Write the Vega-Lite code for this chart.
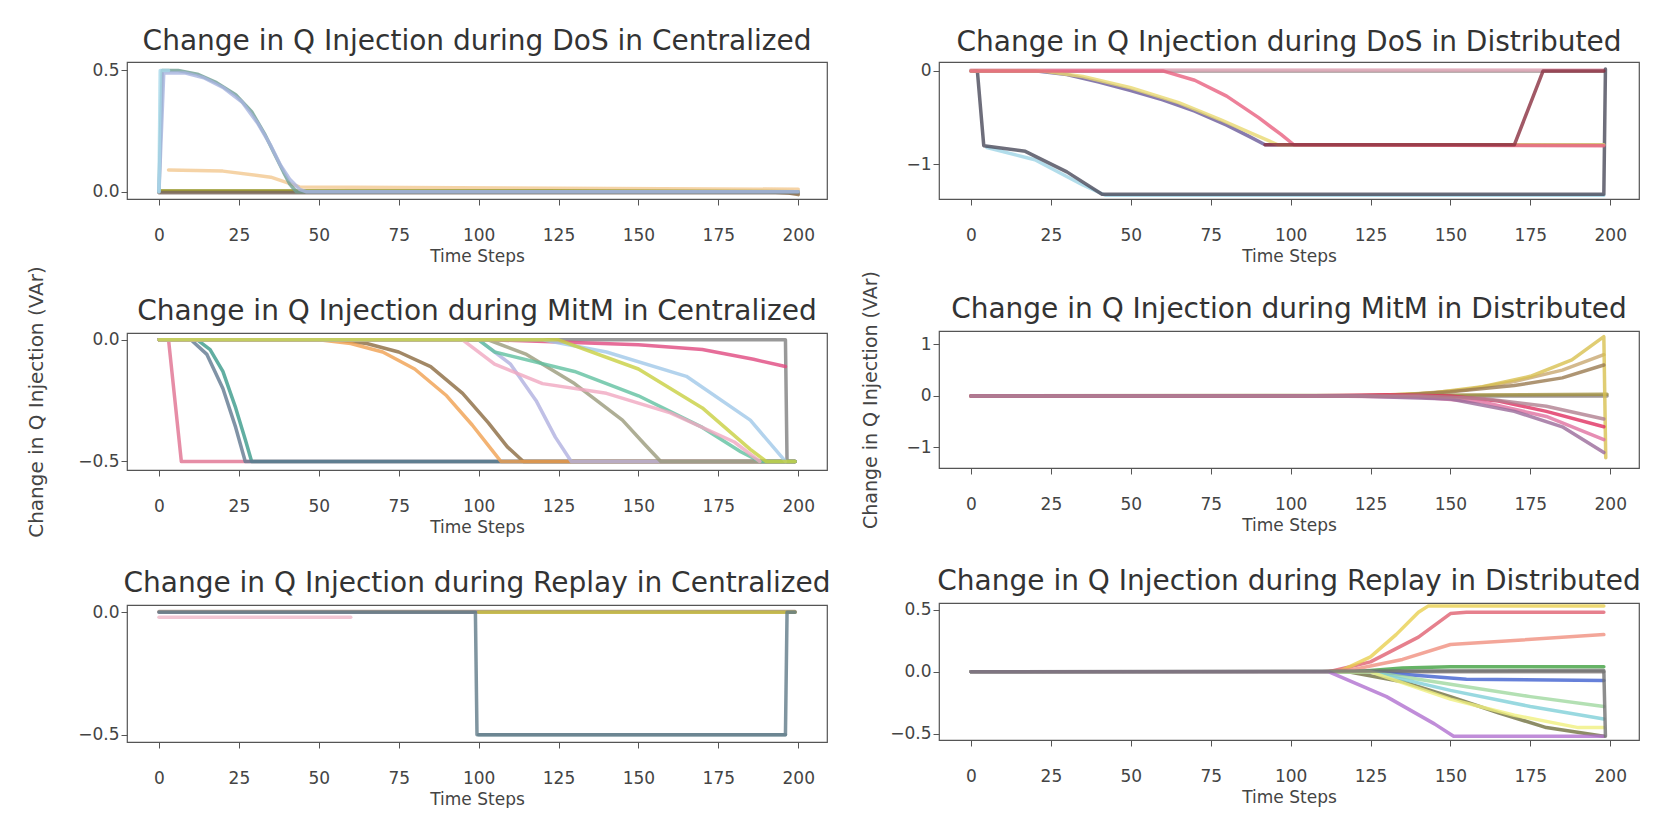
{
"$schema": "https://vega.github.io/schema/vega-lite/v6.json",
"padding": {"left": 25, "top": 27, "right": 0, "bottom": 0},
"background": "white",
"config": {
  "view": {"stroke": "#555", "strokeWidth": 1.2},
  "font": "DejaVu Sans",
  "title": {"fontSize": 28, "fontWeight": "normal", "color": "#333", "offset": 5},
  "axis": {"grid": false, "domain": false, "tickColor": "#555", "labelFontSize": 17, "labelColor": "#444", "titleFontSize": 17, "titleFontWeight": "normal", "titleColor": "#444", "tickSize": 6},
  "line": {"strokeWidth": 3.5, "opacity": 0.8, "strokeCap": "round", "strokeJoin": "round"}
},
"datasets": {
  "dos_c": [
    {"s":"c2","t":3,"v":0.09},{"s":"c2","t":20,"v":0.085},{"s":"c2","t":35,"v":0.06},{"s":"c2","t":44,"v":0.02},{"s":"c2","t":200,"v":0.01},
    {"s":"b1","t":0,"v":0},{"s":"b1","t":190,"v":0},{"s":"b1","t":197,"v":-0.005},{"s":"b1","t":200,"v":-0.012},
    {"s":"b2","t":0,"v":0.004},{"s":"b2","t":120,"v":0.004},{"s":"b2","t":200,"v":0},
    {"s":"b3","t":0,"v":-0.004},{"s":"b3","t":200,"v":-0.004},
    {"s":"a1","t":0,"v":0},{"s":"a1","t":1,"v":0.5},{"s":"a1","t":6,"v":0.5},{"s":"a1","t":12,"v":0.485},{"s":"a1","t":18,"v":0.45},{"s":"a1","t":24,"v":0.4},{"s":"a1","t":29,"v":0.33},{"s":"a1","t":33,"v":0.24},{"s":"a1","t":36,"v":0.16},{"s":"a1","t":39,"v":0.08},{"s":"a1","t":41,"v":0.03},{"s":"a1","t":43,"v":0},{"s":"a1","t":200,"v":0},
    {"s":"a2","t":0,"v":0},{"s":"a2","t":1.5,"v":0.49},{"s":"a2","t":8,"v":0.49},{"s":"a2","t":14,"v":0.47},{"s":"a2","t":20,"v":0.43},{"s":"a2","t":26,"v":0.37},{"s":"a2","t":31,"v":0.28},{"s":"a2","t":35,"v":0.19},{"s":"a2","t":38,"v":0.11},{"s":"a2","t":41,"v":0.05},{"s":"a2","t":44,"v":0.01},{"s":"a2","t":46,"v":0},{"s":"a2","t":200,"v":0},
    {"s":"c1","t":0,"v":0},{"s":"c1","t":0.4,"v":0.5},{"s":"c1","t":3,"v":0.5}
  ],
  "dos_d": [
    {"s":"d3","t":0,"v":0},{"s":"d3","t":198,"v":0},
    {"s":"d4","t":0,"v":0.01},{"s":"d4","t":198,"v":0.01},
    {"s":"d2","t":5,"v":-0.82},{"s":"d2","t":20,"v":-0.95},{"s":"d2","t":35,"v":-1.22},{"s":"d2","t":42,"v":-1.33},{"s":"d2","t":198,"v":-1.33},
    {"s":"d1","t":1,"v":0},{"s":"d1","t":2,"v":0},{"s":"d1","t":4,"v":-0.8},{"s":"d1","t":17,"v":-0.86},{"s":"d1","t":30,"v":-1.08},{"s":"d1","t":41,"v":-1.32},{"s":"d1","t":198,"v":-1.32},{"s":"d1","t":198.5,"v":0.02},
    {"s":"d5","t":0,"v":0},{"s":"d5","t":20,"v":0},{"s":"d5","t":30,"v":-0.04},{"s":"d5","t":40,"v":-0.12},{"s":"d5","t":50,"v":-0.21},{"s":"d5","t":60,"v":-0.31},{"s":"d5","t":70,"v":-0.43},{"s":"d5","t":80,"v":-0.58},{"s":"d5","t":87,"v":-0.7},{"s":"d5","t":92,"v":-0.79},{"s":"d5","t":198,"v":-0.79},
    {"s":"d6","t":0,"v":0},{"s":"d6","t":22,"v":0},{"s":"d6","t":35,"v":-0.06},{"s":"d6","t":50,"v":-0.18},{"s":"d6","t":65,"v":-0.34},{"s":"d6","t":78,"v":-0.52},{"s":"d6","t":88,"v":-0.67},{"s":"d6","t":96,"v":-0.79},{"s":"d6","t":198,"v":-0.79},
    {"s":"d7","t":0,"v":0},{"s":"d7","t":60,"v":0},{"s":"d7","t":70,"v":-0.1},{"s":"d7","t":80,"v":-0.27},{"s":"d7","t":90,"v":-0.5},{"s":"d7","t":97,"v":-0.68},{"s":"d7","t":101,"v":-0.79},{"s":"d7","t":198,"v":-0.8},
    {"s":"d9","t":92,"v":-0.79},{"s":"d9","t":170,"v":-0.79},{"s":"d9","t":179,"v":0},{"s":"d9","t":198,"v":0}
  ],
  "mitm_c": [
    {"s":"m10","t":0,"v":0},{"s":"m10","t":196,"v":0},{"s":"m10","t":196.5,"v":-0.5},{"s":"m10","t":199,"v":-0.5},
    {"s":"m1","t":0,"v":0},{"s":"m1","t":3,"v":0},{"s":"m1","t":5,"v":-0.25},{"s":"m1","t":7,"v":-0.5},{"s":"m1","t":199,"v":-0.5},
    {"s":"m2","t":0,"v":0},{"s":"m2","t":12,"v":0},{"s":"m2","t":16,"v":-0.04},{"s":"m2","t":20,"v":-0.13},{"s":"m2","t":24,"v":-0.28},{"s":"m2","t":27,"v":-0.41},{"s":"m2","t":29,"v":-0.5},{"s":"m2","t":199,"v":-0.5},
    {"s":"m3","t":0,"v":0},{"s":"m3","t":10,"v":0},{"s":"m3","t":15,"v":-0.06},{"s":"m3","t":20,"v":-0.2},{"s":"m3","t":24,"v":-0.36},{"s":"m3","t":27,"v":-0.5},{"s":"m3","t":199,"v":-0.5},
    {"s":"m4","t":0,"v":0},{"s":"m4","t":55,"v":0},{"s":"m4","t":65,"v":-0.015},{"s":"m4","t":75,"v":-0.05},{"s":"m4","t":85,"v":-0.11},{"s":"m4","t":95,"v":-0.22},{"s":"m4","t":103,"v":-0.34},{"s":"m4","t":109,"v":-0.44},{"s":"m4","t":114,"v":-0.5},{"s":"m4","t":199,"v":-0.5},
    {"s":"m5","t":0,"v":0},{"s":"m5","t":50,"v":0},{"s":"m5","t":60,"v":-0.015},{"s":"m5","t":70,"v":-0.05},{"s":"m5","t":80,"v":-0.12},{"s":"m5","t":90,"v":-0.23},{"s":"m5","t":98,"v":-0.35},{"s":"m5","t":104,"v":-0.45},{"s":"m5","t":107,"v":-0.5},{"s":"m5","t":199,"v":-0.5},
    {"s":"m6","t":0,"v":0},{"s":"m6","t":100,"v":0},{"s":"m6","t":110,"v":-0.1},{"s":"m6","t":118,"v":-0.25},{"s":"m6","t":124,"v":-0.4},{"s":"m6","t":129,"v":-0.5},{"s":"m6","t":199,"v":-0.5},
    {"s":"m7","t":0,"v":0},{"s":"m7","t":103,"v":0},{"s":"m7","t":115,"v":-0.06},{"s":"m7","t":130,"v":-0.18},{"s":"m7","t":145,"v":-0.33},{"s":"m7","t":152,"v":-0.43},{"s":"m7","t":157,"v":-0.5},{"s":"m7","t":199,"v":-0.5},
    {"s":"m8","t":0,"v":0},{"s":"m8","t":100,"v":0},{"s":"m8","t":105,"v":-0.05},{"s":"m8","t":130,"v":-0.13},{"s":"m8","t":150,"v":-0.23},{"s":"m8","t":170,"v":-0.36},{"s":"m8","t":182,"v":-0.46},{"s":"m8","t":188,"v":-0.5},{"s":"m8","t":199,"v":-0.5},
    {"s":"m9","t":0,"v":0},{"s":"m9","t":104,"v":0},{"s":"m9","t":150,"v":-0.02},{"s":"m9","t":170,"v":-0.04},{"s":"m9","t":186,"v":-0.08},{"s":"m9","t":196,"v":-0.11},
    {"s":"m11","t":0,"v":0},{"s":"m11","t":95,"v":0},{"s":"m11","t":105,"v":-0.1},{"s":"m11","t":120,"v":-0.18},{"s":"m11","t":140,"v":-0.22},{"s":"m11","t":160,"v":-0.3},{"s":"m11","t":180,"v":-0.42},{"s":"m11","t":188,"v":-0.5},
    {"s":"m12","t":0,"v":0},{"s":"m12","t":120,"v":0},{"s":"m12","t":140,"v":-0.05},{"s":"m12","t":165,"v":-0.15},{"s":"m12","t":185,"v":-0.33},{"s":"m12","t":196,"v":-0.5},
    {"s":"m13","t":0,"v":0},{"s":"m13","t":125,"v":0},{"s":"m13","t":150,"v":-0.12},{"s":"m13","t":170,"v":-0.28},{"s":"m13","t":185,"v":-0.45},{"s":"m13","t":190,"v":-0.5},{"s":"m13","t":199,"v":-0.5}
  ],
  "mitm_d": [
    {"s":"n1","t":0,"v":0},{"s":"n1","t":199,"v":0},
    {"s":"n8","t":0,"v":0},{"s":"n8","t":120,"v":0.01},{"s":"n8","t":199,"v":0.03},
    {"s":"n2","t":0,"v":0},{"s":"n2","t":120,"v":0},{"s":"n2","t":140,"v":0.04},{"s":"n2","t":155,"v":0.12},{"s":"n2","t":170,"v":0.28},{"s":"n2","t":185,"v":0.5},{"s":"n2","t":198,"v":0.8},
    {"s":"n3","t":0,"v":0},{"s":"n3","t":125,"v":0},{"s":"n3","t":145,"v":0.06},{"s":"n3","t":160,"v":0.18},{"s":"n3","t":175,"v":0.38},{"s":"n3","t":188,"v":0.7},{"s":"n3","t":198,"v":1.15},{"s":"n3","t":198.6,"v":-1.2},
    {"s":"n4","t":0,"v":0},{"s":"n4","t":130,"v":0},{"s":"n4","t":150,"v":0.08},{"s":"n4","t":170,"v":0.2},{"s":"n4","t":185,"v":0.35},{"s":"n4","t":198,"v":0.6},
    {"s":"n5","t":0,"v":0},{"s":"n5","t":100,"v":0},{"s":"n5","t":115,"v":0.01},{"s":"n5","t":130,"v":0.02},{"s":"n5","t":150,"v":0},{"s":"n5","t":165,"v":-0.1},{"s":"n5","t":180,"v":-0.3},{"s":"n5","t":198,"v":-0.6},
    {"s":"n6","t":0,"v":0},{"s":"n6","t":110,"v":0},{"s":"n6","t":140,"v":-0.02},{"s":"n6","t":160,"v":-0.12},{"s":"n6","t":180,"v":-0.4},{"s":"n6","t":198,"v":-0.85},
    {"s":"n7","t":0,"v":0},{"s":"n7","t":120,"v":0},{"s":"n7","t":150,"v":-0.06},{"s":"n7","t":170,"v":-0.3},{"s":"n7","t":185,"v":-0.6},{"s":"n7","t":198,"v":-1.1},
    {"s":"n9","t":0,"v":0},{"s":"n9","t":140,"v":0},{"s":"n9","t":160,"v":-0.05},{"s":"n9","t":180,"v":-0.2},{"s":"n9","t":198,"v":-0.45}
  ],
  "rep_c": [
    {"s":"r1","t":0,"v":0},{"s":"r1","t":199,"v":0},
    {"s":"r2","t":0,"v":0.003},{"s":"r2","t":199,"v":0.003},
    {"s":"r3","t":100,"v":0},{"s":"r3","t":199,"v":0},
    {"s":"r5","t":100,"v":-0.5},{"s":"r5","t":196,"v":-0.5},
    {"s":"r4","t":0,"v":0},{"s":"r4","t":99,"v":0},{"s":"r4","t":99.5,"v":-0.5},{"s":"r4","t":196,"v":-0.5},{"s":"r4","t":196.5,"v":0},{"s":"r4","t":199,"v":0},
    {"s":"r6","t":0,"v":-0.02},{"s":"r6","t":60,"v":-0.02}
  ],
  "rep_d": [
    {"s":"p1","t":0,"v":0},{"s":"p1","t":198,"v":0},
    {"s":"p2","t":0,"v":0},{"s":"p2","t":112,"v":0},{"s":"p2","t":125,"v":0.08},{"s":"p2","t":140,"v":0.28},{"s":"p2","t":150,"v":0.47},{"s":"p2","t":155,"v":0.48},{"s":"p2","t":198,"v":0.48},
    {"s":"p3","t":0,"v":0},{"s":"p3","t":115,"v":0},{"s":"p3","t":125,"v":0.12},{"s":"p3","t":133,"v":0.3},{"s":"p3","t":140,"v":0.48},{"s":"p3","t":143,"v":0.53},{"s":"p3","t":198,"v":0.53},
    {"s":"p4","t":0,"v":0},{"s":"p4","t":110,"v":0},{"s":"p4","t":120,"v":0.02},{"s":"p4","t":135,"v":0.1},{"s":"p4","t":150,"v":0.22},{"s":"p4","t":198,"v":0.3},
    {"s":"p5","t":0,"v":0},{"s":"p5","t":120,"v":0},{"s":"p5","t":135,"v":0.03},{"s":"p5","t":150,"v":0.04},{"s":"p5","t":198,"v":0.04},
    {"s":"p6","t":0,"v":0},{"s":"p6","t":125,"v":0},{"s":"p6","t":140,"v":-0.03},{"s":"p6","t":155,"v":-0.06},{"s":"p6","t":198,"v":-0.07},
    {"s":"p7","t":0,"v":0},{"s":"p7","t":118,"v":0},{"s":"p7","t":135,"v":-0.08},{"s":"p7","t":150,"v":-0.2},{"s":"p7","t":165,"v":-0.33},{"s":"p7","t":180,"v":-0.45},{"s":"p7","t":198,"v":-0.52},
    {"s":"p8","t":0,"v":0},{"s":"p8","t":125,"v":0},{"s":"p8","t":150,"v":-0.1},{"s":"p8","t":175,"v":-0.2},{"s":"p8","t":198,"v":-0.28},
    {"s":"p9","t":0,"v":0},{"s":"p9","t":125,"v":0},{"s":"p9","t":150,"v":-0.15},{"s":"p9","t":175,"v":-0.28},{"s":"p9","t":198,"v":-0.38},
    {"s":"p10","t":0,"v":0},{"s":"p10","t":125,"v":0},{"s":"p10","t":150,"v":-0.22},{"s":"p10","t":170,"v":-0.35},{"s":"p10","t":190,"v":-0.45},{"s":"p10","t":198,"v":-0.45},
    {"s":"p11","t":0,"v":0},{"s":"p11","t":112,"v":0},{"s":"p11","t":130,"v":-0.2},{"s":"p11","t":145,"v":-0.42},{"s":"p11","t":151,"v":-0.52},{"s":"p11","t":198,"v":-0.52},
    {"s":"p13","t":0,"v":0},{"s":"p13","t":198,"v":0.01},{"s":"p13","t":198.5,"v":-0.52}
  ]
},
"hconcat": [
  {"vconcat": [
    {"vconcat": [
      {"title": "Change in Q Injection during DoS in Centralized", "width": 700, "height": 137,
       "data": {"name": "dos_c"}, "mark": {"type": "line", "clip": true},
       "encoding": {
         "x": {"field": "t", "type": "quantitative", "scale": {"domain": [-10, 209], "nice": false, "zero": false}, "axis": {"values": [0,25,50,75,100,125,150,175,200], "title": "Time Steps", "labelPadding": 22, "titlePadding": 5}},
         "y": {"field": "v", "type": "quantitative", "scale": {"domain": [-0.03, 0.535], "nice": false, "zero": false}, "axis": {"values": [0, 0.5], "format": ".1f", "title": ".", "titleOpacity": 0, "titleFontSize": 20, "minExtent": 60, "maxExtent": 60, "titlePadding": 21}},
         "color": {"field": "s", "type": "nominal", "legend": null, "scale": {"domain": ["c2","b1","b2","b3","a1","a2","c1"], "range": ["#f3c890","#8b6a40","#9a9a30","#7a6a60","#6e9e94","#a8b4e0","#a8d8ea"]}}
       }},
      {"title": {"text": "Change in Q Injection during MitM in Centralized", "offset": -60}, "width": 700, "height": 137,
       "data": {"name": "mitm_c"}, "mark": {"type": "line", "clip": true},
       "encoding": {
         "x": {"field": "t", "type": "quantitative", "scale": {"domain": [-10, 209], "nice": false, "zero": false}, "axis": {"values": [0,25,50,75,100,125,150,175,200], "title": "Time Steps", "labelPadding": 22, "titlePadding": 5}},
         "y": {"field": "v", "type": "quantitative", "scale": {"domain": [-0.535, 0.028], "nice": false, "zero": false}, "axis": {"values": [-0.5, 0], "format": ".1f", "title": "Change in Q Injection (VAr)", "titleFontSize": 20, "minExtent": 60, "maxExtent": 60, "titlePadding": 21}},
         "color": {"field": "s", "type": "nominal", "legend": null, "scale": {"domain": ["m10","m1","m2","m3","m4","m5","m6","m7","m8","m9","m11","m12","m13"], "range": ["#808080","#e07090","#3a9a8a","#607890","#8b6a40","#f0a050","#b0b0e0","#9a9a7a","#60c0a0","#e04880","#f0a8c0","#a0c8e8","#c8d040"]}}
       }}
    ], "spacing": 0, "resolve": {"scale": {"color": "independent"}}},
    {"title": "Change in Q Injection during Replay in Centralized", "width": 700, "height": 137,
     "data": {"name": "rep_c"}, "mark": {"type": "line", "clip": true},
     "encoding": {
       "x": {"field": "t", "type": "quantitative", "scale": {"domain": [-10, 209], "nice": false, "zero": false}, "axis": {"values": [0,25,50,75,100,125,150,175,200], "title": "Time Steps", "labelPadding": 22, "titlePadding": 5}},
       "y": {"field": "v", "type": "quantitative", "scale": {"domain": [-0.53, 0.03], "nice": false, "zero": false}, "axis": {"values": [-0.5, 0], "format": ".1f", "title": ".", "titleOpacity": 0, "titleFontSize": 20, "minExtent": 60, "maxExtent": 60, "titlePadding": 21}},
       "color": {"field": "s", "type": "nominal", "legend": null, "scale": {"domain": ["r1","r2","r3","r5","r4","r6"], "range": ["#c8a0b8","#a08878","#c8c040","#80a0a8","#607a88","#f0b8c8"]}}
     }}
  ], "spacing": 31, "resolve": {"scale": {"color": "independent"}}},
  {"vconcat": [
    {"vconcat": [
      {"title": "Change in Q Injection during DoS in Distributed", "width": 700, "height": 137,
       "data": {"name": "dos_d"}, "mark": {"type": "line", "clip": true},
       "encoding": {
         "x": {"field": "t", "type": "quantitative", "scale": {"domain": [-10, 209], "nice": false, "zero": false}, "axis": {"values": [0,25,50,75,100,125,150,175,200], "title": "Time Steps", "labelPadding": 22, "titlePadding": 5}},
         "y": {"field": "v", "type": "quantitative", "scale": {"domain": [-1.37, 0.095], "nice": false, "zero": false}, "axis": {"values": [-1, 0], "format": "d", "title": ".", "titleOpacity": 0, "titleFontSize": 19, "minExtent": 40, "maxExtent": 40, "titlePadding": 19}},
         "color": {"field": "s", "type": "nominal", "legend": null, "scale": {"domain": ["d3","d4","d2","d1","d5","d6","d7","d9"], "range": ["#8c7c7c","#e8b0c0","#9fd4e6","#4a4a5a","#6a5a9a","#e8d870","#e86080","#8a3040"]}}
       }},
      {"title": {"text": "Change in Q Injection during MitM in Distributed", "offset": -54}, "width": 700, "height": 137,
       "data": {"name": "mitm_d"}, "mark": {"type": "line", "clip": true},
       "encoding": {
         "x": {"field": "t", "type": "quantitative", "scale": {"domain": [-10, 209], "nice": false, "zero": false}, "axis": {"values": [0,25,50,75,100,125,150,175,200], "title": "Time Steps", "labelPadding": 22, "titlePadding": 5}},
         "y": {"field": "v", "type": "quantitative", "scale": {"domain": [-1.4, 1.26], "nice": false, "zero": false}, "axis": {"values": [-1, 0, 1], "format": "d", "title": "Change in Q Injection (VAr)", "titleFontSize": 19, "minExtent": 40, "maxExtent": 40, "titlePadding": 19}},
         "color": {"field": "s", "type": "nominal", "legend": null, "scale": {"domain": ["n1","n8","n2","n3","n4","n5","n6","n7","n9"], "range": ["#8a8080","#a09040","#c8a870","#d8c050","#9a7a50","#e03060","#e070a0","#9a6a9a","#b08090"]}}
       }}
    ], "spacing": 4, "resolve": {"scale": {"color": "independent"}}},
    {"title": "Change in Q Injection during Replay in Distributed", "width": 700, "height": 137,
     "data": {"name": "rep_d"}, "mark": {"type": "line", "clip": true},
     "encoding": {
       "x": {"field": "t", "type": "quantitative", "scale": {"domain": [-10, 209], "nice": false, "zero": false}, "axis": {"values": [0,25,50,75,100,125,150,175,200], "title": "Time Steps", "labelPadding": 22, "titlePadding": 5}},
       "y": {"field": "v", "type": "quantitative", "scale": {"domain": [-0.55, 0.555], "nice": false, "zero": false}, "axis": {"values": [-0.5, 0, 0.5], "format": ".1f", "title": ".", "titleOpacity": 0, "titleFontSize": 19, "minExtent": 40, "maxExtent": 40, "titlePadding": 19}},
       "color": {"field": "s", "type": "nominal", "legend": null, "scale": {"domain": ["p1","p2","p3","p4","p5","p6","p7","p8","p9","p10","p11","p13"], "range": ["#8a8080","#e06070","#e8d050","#f09080","#40a040","#4060d0","#707040","#a0d8a0","#80d0d8","#f0f080","#b070d0","#707070"]}}
     }}
  ], "spacing": 33, "resolve": {"scale": {"color": "independent"}}}
],
"spacing": 28,
"resolve": {"scale": {"color": "independent"}}
}
